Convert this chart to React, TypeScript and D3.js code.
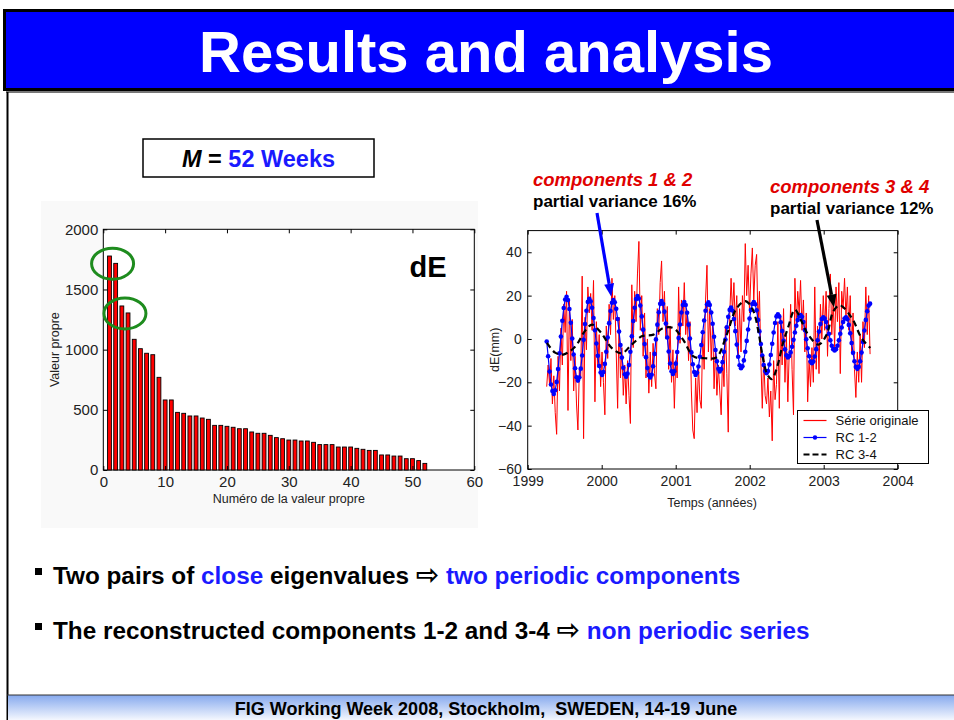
import * as d3 from "d3";
import React, { useEffect, useRef } from "react";

const FONT = "'Liberation Sans', Arial, Helvetica, sans-serif";
const BLUE_TEXT = "#1a1aff";

// eigenvalues (dE, M = 52 weeks)
const eigenvalues = [
  1778, 1717, 1363, 1305, 1086, 1008, 970, 958, 770, 582, 582, 479, 471, 449,
  449, 432, 421, 371, 371, 363, 355, 343, 343, 316, 305, 305, 288, 269, 260,
  249, 249, 241, 241, 230, 211, 211, 211, 191, 191, 191, 180, 172, 163, 163,
  125, 125, 116, 116, 94, 94, 78, 55,
];
const closePairs = [
  [1, 2],
  [3, 4],
];
const rankTicks = [0, 10, 20, 30, 40, 50, 60];
const valueTicks = [0, 500, 1000, 1500, 2000];

// weekly series, first week 1999.257
const seriesStart = 1999.257;
const serieOriginale = [
  -22, -12, -21, -9, -30, -17, -34, -44, -8, -24,
  5, -12, 16, 3, 22, -33, 18, -10, 9, -24,
  -8, -30, -42, -14, -18, 29, -46, 10, -5, 24,
  12, 21, 4, 27, -29, 8, -12, 2, -22, -6,
  -20, -35, 6, -9, 16, 2, 28, 9, 20, -6,
  -32, 10, -18, -4, -26, -12, -30, -10, -26, -39,
  25, -4, 22, 8, 30, 45, 4, 20, -8, 12,
  -18, 0, -25, -6, -22, -2, -16, -23, 14, 2,
  26, 36, 8, 22, 0, 15, -14, 6, -20, -5,
  -32, -10, -18, 24, -2, 18, 6, 26, 2, 13,
  -10, 8, -24, -42, -46, -18, -34, -12, -28, -32,
  4, -14, 18, 34, -6, 14, -10, 8, -23, -4,
  -26, -12, -24, -35, -8, -22, 6, -16, -43, 10,
  28, 12, 26, 6, 20, -8, 14, -6, 20, 8,
  44, 20, 34, 12, 30, 42, 18, 34, 39, 6,
  22, -10, -32, -8, -26, -30, -18, -36, -24, -47,
  -10, -28, -21, 8, -32, 10, -12, 14, -20, 2,
  -29, -6, 16, -14, -35, 28, 6, 22, 12, 27,
  4, 18, -6, 12, -29, -10, -22, -4, -20, 24,
  -14, 6, -16, 16, 0, 20, 4, 22, -8, 14,
  30, 2, 18, -4, 24, 8, 26, -16, 22, 14,
  28, 10, 24, 4, 20, -6, 12, -14, -27, -6,
  -20, 2, -20, 8, -4, 24, 2, 20, -7,
];
const rc12 = [
  -1.2, -8, -15, -21, -24, -25.4, -23.7, -19.8, -13.9, -6.6,
  1.1, 8.4, 14.3, 18.2, 19.5, 18, 13.8, 7.5, 0.2, -7.2,
  -13.5, -17.7, -19.2, -17.8, -13.7, -7.6, -0.4, 6.9, 13, 17.1,
  18.5, 17.4, 14.4, 9.7, 4, -2.1, -7.8, -12.5, -15.5, -16.6,
  -15.3, -11.5, -5.9, 0.7, 7.3, 12.9, 16.7, 18, 16.9, 13.9,
  9.2, 3.4, -2.8, -8.6, -13.3, -16.3, -17.4, -16, -12, -5.9,
  1.2, 8.3, 14.4, 18.4, 19.8, 18.7, 15.4, 10.4, 4.3, -2.3,
  -8.4, -13.4, -16.7, -17.8, -16.5, -12.6, -6.9, -0.2, 6.6, 12.3,
  16.2, 17.5, 16.2, 12.6, 7.1, 0.7, -5.8, -11.3, -14.9, -16.2,
  -14.9, -11.4, -6, 0.4, 6.7, 12.2, 15.7, 17, 15.7, 12.1,
  6.6, 0.2, -6.2, -11.7, -15.3, -16.6, -15.6, -12.7, -8.2, -2.8,
  3.1, 8.5, 13, 15.9, 16.9, 15.7, 12.2, 7, 1, -5.1,
  -10.3, -13.8, -15, -13.9, -10.7, -5.9, -0.3, 5.4, 10.2, 13.4,
  14.5, 13.1, 9.2, 3.6, -2.6, -8.2, -12.1, -13.5, -12.6, -9.9,
  -5.9, -0.9, 4.4, 9.4, 13.4, 16.1, 17, 16, 13.2, 8.8,
  3.5, -2.3, -7.6, -12, -14.8, -15.8, -14.8, -11.8, -7.4, -2.2,
  3, 7.4, 10.4, 11.4, 10.4, 7.7, 3.7, -0.8, -4.8, -7.5,
  -8.5, -7.9, -6.2, -3.6, -0.4, 3, 6.1, 8.7, 10.4, 11,
  10.2, 7.8, 4.1, -0.1, -4.3, -8, -10.4, -11.2, -10.4, -8.1,
  -4.7, -0.6, 3.4, 6.9, 9.2, 10, 9.4, 7.8, 5.3, 2.4,
  -0.6, -3.1, -4.7, -5.3, -4.7, -3.1, -0.6, 2.4, 5.3, 7.8,
  9.4, 10, 9.1, 6.5, 2.6, -1.9, -6.4, -10.3, -12.9, -13.8,
  -12.9, -10.3, -6.3, -1.4, 3.9, 8.8, 12.8, 15.4, 16.3,
];
const rc34Years = [
  1999.26, 1999.37, 1999.48, 1999.64, 1999.77, 1999.87, 2000.0, 2000.13,
  2000.27, 2000.4, 2000.54, 2000.7, 2000.83, 2000.97, 2001.1, 2001.24, 2001.4,
  2001.55, 2001.69, 2001.82, 2001.94, 2002.0, 2002.06, 2002.12, 2002.18,
  2002.24, 2002.3, 2002.37, 2002.45, 2002.52, 2002.61, 2002.7, 2002.79,
  2002.93, 2003.04, 2003.13, 2003.22, 2003.38, 2003.51, 2003.63,
];
const rc34Values = [
  -1.8, -6.3, -7.2, -3.6, 3.5, 6.6, 2.5, -4, -6.6, -2.8, 1.2, 2, 5, 5, -0.3,
  -8, -8.9, -8.5, 2, 14, 17.5, 16, 12, 3, -9, -16.5, -18.5, -13, -2, 5.4, 13.5,
  8.2, 2, -2.6, 2, 12.8, 15.5, 9.7, 0.5, -4.2,
];
const yearTicks = [1999, 2000, 2001, 2002, 2003, 2004];
const dETicks = [-60, -40, -20, 0, 20, 40];
const legendLabels = ["Série originale", "RC 1-2", "RC 3-4"];

const W = 954;
const H = 720;

const App = () => {
  const ref = useRef<SVGSVGElement>(null);

  useEffect(() => {
    const svg = d3.select(ref.current);
    svg.selectAll("*").remove();
    svg.style("font-family", FONT);

    // ---- slide frame ----
    svg.append("rect").attr("width", W).attr("height", H).attr("fill", "#fff");

    svg
      .append("rect")
      .attr("x", 4.5)
      .attr("y", 10.5)
      .attr("width", W + 10)
      .attr("height", 79)
      .attr("fill", "#0000ff")
      .attr("stroke", "#000")
      .attr("stroke-width", 3);
    svg
      .append("rect")
      .attr("x", 6)
      .attr("y", 91)
      .attr("width", W)
      .attr("height", 2)
      .attr("fill", "#777");
    svg
      .append("text")
      .attr("x", 486)
      .attr("y", 72)
      .attr("text-anchor", "middle")
      .attr("fill", "#fff")
      .attr("font-weight", "bold")
      .attr("font-size", 58)
      .text("Results and analysis");

    svg
      .append("line")
      .attr("x1", 7.5)
      .attr("x2", 7.5)
      .attr("y1", 92)
      .attr("y2", H)
      .attr("stroke", "#000")
      .attr("stroke-width", 2);

    const grad = svg
      .append("defs")
      .append("linearGradient")
      .attr("id", "footer")
      .attr("x1", 0)
      .attr("x2", 0)
      .attr("y1", 0)
      .attr("y2", 1);
    grad.append("stop").attr("offset", "0%").attr("stop-color", "#86a9ee");
    grad.append("stop").attr("offset", "100%").attr("stop-color", "#f4f7fe");
    svg
      .append("rect")
      .attr("x", 8)
      .attr("y", 695)
      .attr("width", W - 8)
      .attr("height", 25)
      .attr("fill", "url(#footer)");
    svg
      .append("line")
      .attr("x1", 7)
      .attr("x2", W)
      .attr("y1", 695)
      .attr("y2", 695)
      .attr("stroke", "#333")
      .attr("stroke-width", 1);
    svg
      .append("text")
      .attr("x", 486)
      .attr("y", 715)
      .attr("text-anchor", "middle")
      .attr("font-weight", "bold")
      .attr("font-size", 18)
      .style("white-space", "pre")
      .text("FIG Working Week 2008, Stockholm,  SWEDEN, 14-19 June");

    // ---- M = 52 Weeks box ----
    svg
      .append("rect")
      .attr("x", 143)
      .attr("y", 139)
      .attr("width", 231)
      .attr("height", 38)
      .attr("fill", "#fff")
      .attr("stroke", "#000")
      .attr("stroke-width", 1.5);
    const mText = svg
      .append("text")
      .attr("x", 258.5)
      .attr("y", 166.5)
      .attr("text-anchor", "middle")
      .attr("font-weight", "bold")
      .attr("font-size", 23.5)
      .style("white-space", "pre");
    mText.append("tspan").attr("font-style", "italic").text("M");
    mText.append("tspan").text(" = ");
    mText.append("tspan").attr("fill", BLUE_TEXT).text("52 Weeks");

    // ---- left chart: eigenvalues ----
    svg
      .append("rect")
      .attr("x", 41)
      .attr("y", 201)
      .attr("width", 437)
      .attr("height", 327)
      .attr("fill", "#f9f9f9");

    const xL = d3.scaleLinear().domain([0, 60]).range([103.3, 474.3]);
    const yL = d3.scaleLinear().domain([0, 2000]).range([470, 229.3]);
    const gL = svg.append("g");

    gL.append("rect")
      .attr("x", xL(0))
      .attr("y", yL(2000))
      .attr("width", xL(60) - xL(0))
      .attr("height", yL(0) - yL(2000))
      .attr("fill", "#fff")
      .attr("stroke", "#000")
      .attr("stroke-width", 1);

    const bw = (xL(1) - xL(0)) * 0.62;
    gL.selectAll("rect.bar")
      .data(eigenvalues)
      .join("rect")
      .attr("class", "bar")
      .attr("x", (_, i) => xL(i + 1) - bw / 2)
      .attr("y", (d) => yL(d))
      .attr("width", bw)
      .attr("height", (d) => yL(0) - yL(d))
      .attr("fill", "#ff0000")
      .attr("stroke", "#000")
      .attr("stroke-width", 0.9);

    const styleAxis = (g, size) => {
      g.select(".domain").remove();
      g.selectAll("line").attr("stroke", "#000");
      g.selectAll("text")
        .attr("fill", "#222")
        .attr("font-size", size)
        .attr("font-family", FONT);
    };
    const intFmt = d3.format("d");

    gL.append("g")
      .attr("transform", `translate(${xL(0)},0)`)
      .call(d3.axisLeft(yL).tickValues(valueTicks).tickSize(-4).tickPadding(5).tickFormat(intFmt))
      .call((g) => styleAxis(g, 15));
    gL.append("g")
      .attr("transform", `translate(${xL(60)},0)`)
      .call(d3.axisRight(yL).tickValues(valueTicks).tickSize(-4).tickFormat(() => ""))
      .call((g) => styleAxis(g, 15));
    gL.append("g")
      .attr("transform", `translate(0,${yL(0)})`)
      .call(d3.axisBottom(xL).tickValues(rankTicks).tickSize(-4).tickPadding(6).tickFormat(intFmt))
      .call((g) => styleAxis(g, 15));
    gL.append("g")
      .attr("transform", `translate(0,${yL(2000)})`)
      .call(d3.axisTop(xL).tickValues(rankTicks).tickSize(-4).tickFormat(() => ""))
      .call((g) => styleAxis(g, 15));

    gL.append("text")
      .attr("transform", `translate(59,${(yL(0) + yL(2000)) / 2}) rotate(-90)`)
      .attr("text-anchor", "middle")
      .attr("font-size", 12.5)
      .attr("fill", "#222")
      .text("Valeur propre");
    gL.append("text")
      .attr("x", (xL(0) + xL(60)) / 2)
      .attr("y", 503)
      .attr("text-anchor", "middle")
      .attr("font-size", 12.5)
      .attr("fill", "#222")
      .text("Numéro de la valeur propre");
    gL.append("text")
      .attr("x", 428)
      .attr("y", 277)
      .attr("text-anchor", "middle")
      .attr("font-size", 29)
      .attr("font-weight", "bold")
      .text("dE");

    // green ellipses around the close pairs
    gL.selectAll("ellipse")
      .data(closePairs)
      .join("ellipse")
      .attr("cx", (p) => xL((p[0] + p[1]) / 2))
      .attr("cy", (p) => yL((eigenvalues[p[0] - 1] + eigenvalues[p[1] - 1]) / 2) + 4)
      .attr("rx", 21)
      .attr("ry", 15.5)
      .attr("fill", "none")
      .attr("stroke", "#1e8c1e")
      .attr("stroke-width", 3);

    // ---- right chart: time series ----
    const xR = d3.scaleLinear().domain([1999, 2004]).range([527.7, 897.7]);
    const yR = d3.scaleLinear().domain([-60, 50]).range([469, 230.6]);
    const gR = svg.append("g");
    const weekYear = (i) => seriesStart + (i * 7) / 365.25;

    gR.append("rect")
      .attr("x", xR(1999))
      .attr("y", yR(50))
      .attr("width", xR(2004) - xR(1999))
      .attr("height", yR(-60) - yR(50))
      .attr("fill", "#fff")
      .attr("stroke", "#000")
      .attr("stroke-width", 1);

    gR.append("g")
      .attr("transform", `translate(${xR(1999)},0)`)
      .call(d3.axisLeft(yR).tickValues(dETicks).tickSize(-4).tickPadding(6))
      .call((g) => styleAxis(g, 14));
    gR.append("g")
      .attr("transform", `translate(${xR(2004)},0)`)
      .call(d3.axisRight(yR).tickValues(dETicks).tickSize(-4).tickFormat(() => ""))
      .call((g) => styleAxis(g, 14));
    gR.append("g")
      .attr("transform", `translate(0,${yR(-60)})`)
      .call(d3.axisBottom(xR).tickValues(yearTicks).tickSize(-4).tickPadding(7).tickFormat(intFmt))
      .call((g) => styleAxis(g, 14));
    gR.append("g")
      .attr("transform", `translate(0,${yR(50)})`)
      .call(d3.axisTop(xR).tickValues(yearTicks).tickSize(-4).tickFormat(() => ""))
      .call((g) => styleAxis(g, 14));

    gR.append("text")
      .attr("transform", `translate(499,${yR(-5)}) rotate(-90)`)
      .attr("text-anchor", "middle")
      .attr("font-size", 12.5)
      .attr("fill", "#222")
      .text("dE(mm)");
    gR.append("text")
      .attr("x", 712)
      .attr("y", 507)
      .attr("text-anchor", "middle")
      .attr("font-size", 12.5)
      .attr("fill", "#222")
      .text("Temps (années)");

    const weekLine = d3
      .line<number>()
      .x((_, i) => xR(weekYear(i)))
      .y((d) => yR(d));

    gR.append("path")
      .attr("d", weekLine(serieOriginale))
      .attr("fill", "none")
      .attr("stroke", "#ff0000")
      .attr("stroke-width", 1);

    gR.append("path")
      .attr("d", weekLine(rc12))
      .attr("fill", "none")
      .attr("stroke", "#0000ff")
      .attr("stroke-width", 1.2);
    gR.selectAll("circle.rc12")
      .data(rc12)
      .join("circle")
      .attr("class", "rc12")
      .attr("cx", (_, i) => xR(weekYear(i)))
      .attr("cy", (d) => yR(d))
      .attr("r", 2.3)
      .attr("fill", "#0000ff");

    const rc34Line = d3
      .line<number>()
      .x((_, i) => xR(rc34Years[i]))
      .y((d) => yR(d))
      .curve(d3.curveCatmullRom);
    gR.append("path")
      .attr("d", rc34Line(rc34Values))
      .attr("fill", "none")
      .attr("stroke", "#000")
      .attr("stroke-width", 2.2)
      .attr("stroke-dasharray", "6 4");

    // legend
    const lg = gR.append("g").attr("transform", "translate(797.5,410.5)");
    lg.append("rect")
      .attr("width", 131)
      .attr("height", 53)
      .attr("fill", "#fff")
      .attr("stroke", "#000")
      .attr("stroke-width", 1);
    const rows = lg
      .selectAll("g.row")
      .data(legendLabels)
      .join("g")
      .attr("class", "row")
      .attr("transform", (_, i) => `translate(0,${10 + i * 17})`);
    rows
      .append("line")
      .attr("x1", 6)
      .attr("x2", 29)
      .attr("stroke", (_, i) => ["#ff0000", "#0000ff", "#000"][i])
      .attr("stroke-width", (_, i) => (i === 2 ? 2.2 : 1.2))
      .attr("stroke-dasharray", (_, i) => (i === 2 ? "6 3" : null));
    rows
      .filter((_, i) => i === 1)
      .append("circle")
      .attr("cx", 17.5)
      .attr("r", 2.2)
      .attr("fill", "#0000ff");
    rows
      .append("text")
      .attr("x", 38)
      .attr("y", 4.5)
      .attr("font-size", 13)
      .attr("fill", "#111")
      .text((d) => d);

    // annotations
    const annot = [
      { x: 533, y: 186, head: "components 1 & 2", sub: "partial variance 16%", subY: 207 },
      { x: 770, y: 193, head: "components 3 & 4", sub: "partial variance 12%", subY: 214 },
    ];
    annot.forEach((a) => {
      svg.append("text")
        .attr("x", a.x)
        .attr("y", a.y)
        .attr("font-size", 18.5)
        .attr("font-weight", "bold")
        .attr("font-style", "italic")
        .attr("fill", "#e00000")
        .text(a.head);
      svg.append("text")
        .attr("x", a.x)
        .attr("y", a.subY)
        .attr("font-size", 17)
        .attr("font-weight", "bold")
        .attr("fill", "#000")
        .text(a.sub);
    });

    const arrow = (x1, y1, x2, y2, color) => {
      const ang = Math.atan2(y2 - y1, x2 - x1);
      const hl = 13;
      const hw = 5;
      const bx = x2 - hl * Math.cos(ang);
      const by = y2 - hl * Math.sin(ang);
      svg.append("line")
        .attr("x1", x1)
        .attr("y1", y1)
        .attr("x2", bx)
        .attr("y2", by)
        .attr("stroke", color)
        .attr("stroke-width", 3.2);
      const px = -Math.sin(ang);
      const py = Math.cos(ang);
      svg.append("path")
        .attr("d", `M${x2},${y2}L${bx + hw * px},${by + hw * py}L${bx - hw * px},${by - hw * py}Z`)
        .attr("fill", color);
    };
    arrow(597, 213, xR(2000.13), yR(19.5), "#0000ff");
    arrow(817, 220, xR(2003.14), yR(14.5), "#000");

    // ---- bullets ----
    const bullets = [
      [
        ["Two pairs of ", "#000"],
        ["close", BLUE_TEXT],
        [" eigenvalues ", "#000"],
        ["⇨", "#000"],
        [" two periodic components", BLUE_TEXT],
      ],
      [
        ["The reconstructed components 1-2 and 3-4 ", "#000"],
        ["⇨", "#000"],
        [" non periodic series", BLUE_TEXT],
      ],
    ];
    const bulletY = [584, 639];
    bullets.forEach((parts, k) => {
      svg.append("rect")
        .attr("x", 35)
        .attr("y", bulletY[k] - 16)
        .attr("width", 7)
        .attr("height", 7)
        .attr("fill", "#000");
      const t = svg
        .append("text")
        .attr("x", 53)
        .attr("y", bulletY[k])
        .attr("font-size", 24.3)
        .attr("font-weight", "bold")
        .style("white-space", "pre");
      parts.forEach(([s, c]) => {
        const sp = t.append("tspan").attr("fill", c).text(s);
        if (s === "⇨")
          sp.attr("font-family", "'DejaVu Sans'")
            .attr("font-weight", "bold")
            .attr("font-size", 28);
      });
    });
  }, []);

  return (
    <svg
      ref={ref}
      width={W}
      height={H}
      style={{ position: "absolute", left: 0, top: 0, display: "block" }}
    />
  );
};

export default App;
